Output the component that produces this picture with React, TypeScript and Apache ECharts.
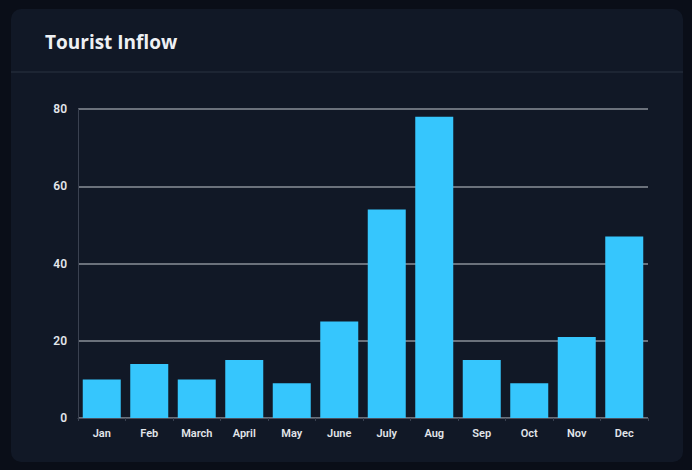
import React, { useEffect, useRef } from "react";
import * as echarts from "echarts";

const months = ["Jan", "Feb", "March", "April", "May", "June", "July", "Aug", "Sep", "Oct", "Nov", "Dec"];
const inflow = [10, 14, 10, 15, 9, 25, 54, 78, 15, 9, 21, 47];
const yTicks = [0, 20, 40, 60, 80];

export default function App() {
  const ref = useRef<HTMLDivElement>(null);
  useEffect(() => {
    document.body.style.margin = "0";
    document.body.style.background = "#0a0e18";
    const chart = echarts.init(ref.current!, null, { renderer: "svg" });
    chart.setOption({
      animation: false,
      backgroundColor: "#0a0e18",
      graphic: [
        {
          type: "rect",
          shape: { x: 11, y: 9, width: 672, height: 453, r: 10 },
          style: { fill: "#111826" },
          z: -10,
        },
        {
          type: "line",
          shape: { x1: 11, y1: 72, x2: 683, y2: 72 },
          style: { stroke: "#222a38", lineWidth: 1.5 },
          z: -9,
        },
      ],
      title: {
        text: "Tourist Inflow",
        left: 40,
        top: 27,
        textStyle: { color: "#eef0f4", fontSize: 19, fontWeight: "bold", fontFamily: "Open Sans" },
      },
      grid: { left: 78, right: 44, top: 109, bottom: 52 },
      xAxis: {
        type: "category",
        data: months,
        axisLine: { show: true, lineStyle: { color: "#4a5160", width: 1 } },
        axisTick: { show: true, alignWithLabel: false, lineStyle: { color: "#3a4150" }, length: 3 },
        axisLabel: { color: "#e2e5ea", fontSize: 11, fontWeight: 600, margin: 10, fontFamily: "Liberation Sans Narrow, Roboto" },
      },
      yAxis: {
        type: "value",
        min: yTicks[0],
        max: yTicks[yTicks.length - 1],
        interval: 20,
        axisLine: { show: true, lineStyle: { color: "#3a4150", width: 1 } },
        axisTick: { show: false },
        axisLabel: { color: "#e2e5ea", fontSize: 12, fontWeight: 600, margin: 11, fontFamily: "Roboto" },
        splitLine: { lineStyle: { color: "#8a8f99", width: 1.5 } },
      },
      series: [
        {
          type: "bar",
          data: inflow,
          barCategoryGap: "20%",
          itemStyle: { color: "#36c6fd" },
        },
      ],
    });
    return () => chart.dispose();
  }, []);
  return <div ref={ref} style={{ position: "absolute", left: 0, top: 0, width: 692, height: 470 }} />;
}
